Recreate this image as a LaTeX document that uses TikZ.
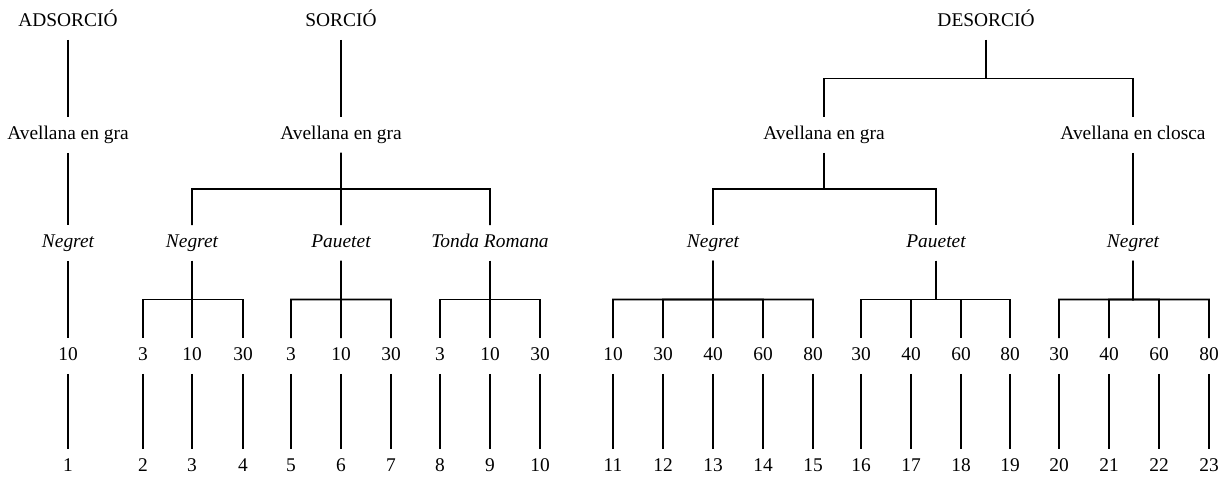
\documentclass[tikz,border=0pt]{standalone}
\usepackage{fontspec}
\setmainfont{Liberation Serif}
\usepackage{tikz}
\usetikzlibrary{calc,positioning}

\tikzset{
  lbl/.style={inner sep=0pt,minimum height=0.85cm,text height=1.7ex,text depth=0.3ex,font=\fontsize{13.8}{16}\selectfont},
  var/.style={lbl,font=\fontsize{13.8}{16}\selectfont\itshape},
  fork/.style={to path={-- ($(\tikztostart)!.5!(\tikztostart |- \tikztotarget)$) -| (\tikztotarget)}}
}

\begin{document}
\begin{tikzpicture}[x=0.025cm,y=-0.025cm,line width=1.2pt]
  \useasboundingbox (0,0) rectangle (1225,479);
  % adsorcio
  \node[lbl] (ads) at (68,22) {ADSORCIÓ};
  \node[lbl] (ada) at (68,135) {Avellana en gra};
  \node[var] (adv) at (68,243) {Negret};
  \draw (ads) -- (ada); \draw (ada) -- (adv);
  % sorcio
  \node[lbl] (sor) at (341,22) {SORCIÓ};
  \node[lbl] (sa) at (341,135) {Avellana en gra};
  \node[var] (sv1) at (192,243) {Negret};
  \node[var] (sv2) at (341,243) {Pauetet};
  \node[var] (sv3) at (490,243) {Tonda Romana};
  \draw (sor) -- (sa);
  \foreach \v in {sv1,sv2,sv3} \draw (sa.south) to[fork] (\v.north);
  % desorcio
  \node[lbl] (des) at (986,22) {DESORCIÓ};
  \node[lbl] (da1) at (824,135) {Avellana en gra};
  \node[lbl] (da2) at (1133,135) {Avellana en closca};
  \node[var] (dv1) at (713,243) {Negret};
  \node[var] (dv2) at (936,243) {Pauetet};
  \node[var] (dv3) at (1133,243) {Negret};
  \foreach \a in {da1,da2} \draw (des.south) to[fork] (\a.north);
  \foreach \v in {dv1,dv2} \draw (da1.south) to[fork] (\v.north);
  \draw (da2) -- (dv3);
  % temperatures and sample numbers
  \foreach \x/\t/\k/\p in {68/10/1/adv,
      143/3/2/sv1,192/10/3/sv1,243/30/4/sv1,
      291/3/5/sv2,341/10/6/sv2,391/30/7/sv2,
      440/3/8/sv3,490/10/9/sv3,540/30/10/sv3,
      613/10/11/dv1,663/30/12/dv1,713/40/13/dv1,763/60/14/dv1,813/80/15/dv1,
      861/30/16/dv2,911/40/17/dv2,961/60/18/dv2,1010/80/19/dv2,
      1059/30/20/dv3,1109/40/21/dv3,1159/60/22/dv3,1209/80/23/dv3} {
    \node[lbl] (t\k) at (\x,356) {\t};
    \node[lbl] (m\k) at (\x,467) {\k};
    \draw (\p.south) to[fork] (t\k.north);
    \draw (t\k) -- (m\k);
  }
\end{tikzpicture}
\end{document}
